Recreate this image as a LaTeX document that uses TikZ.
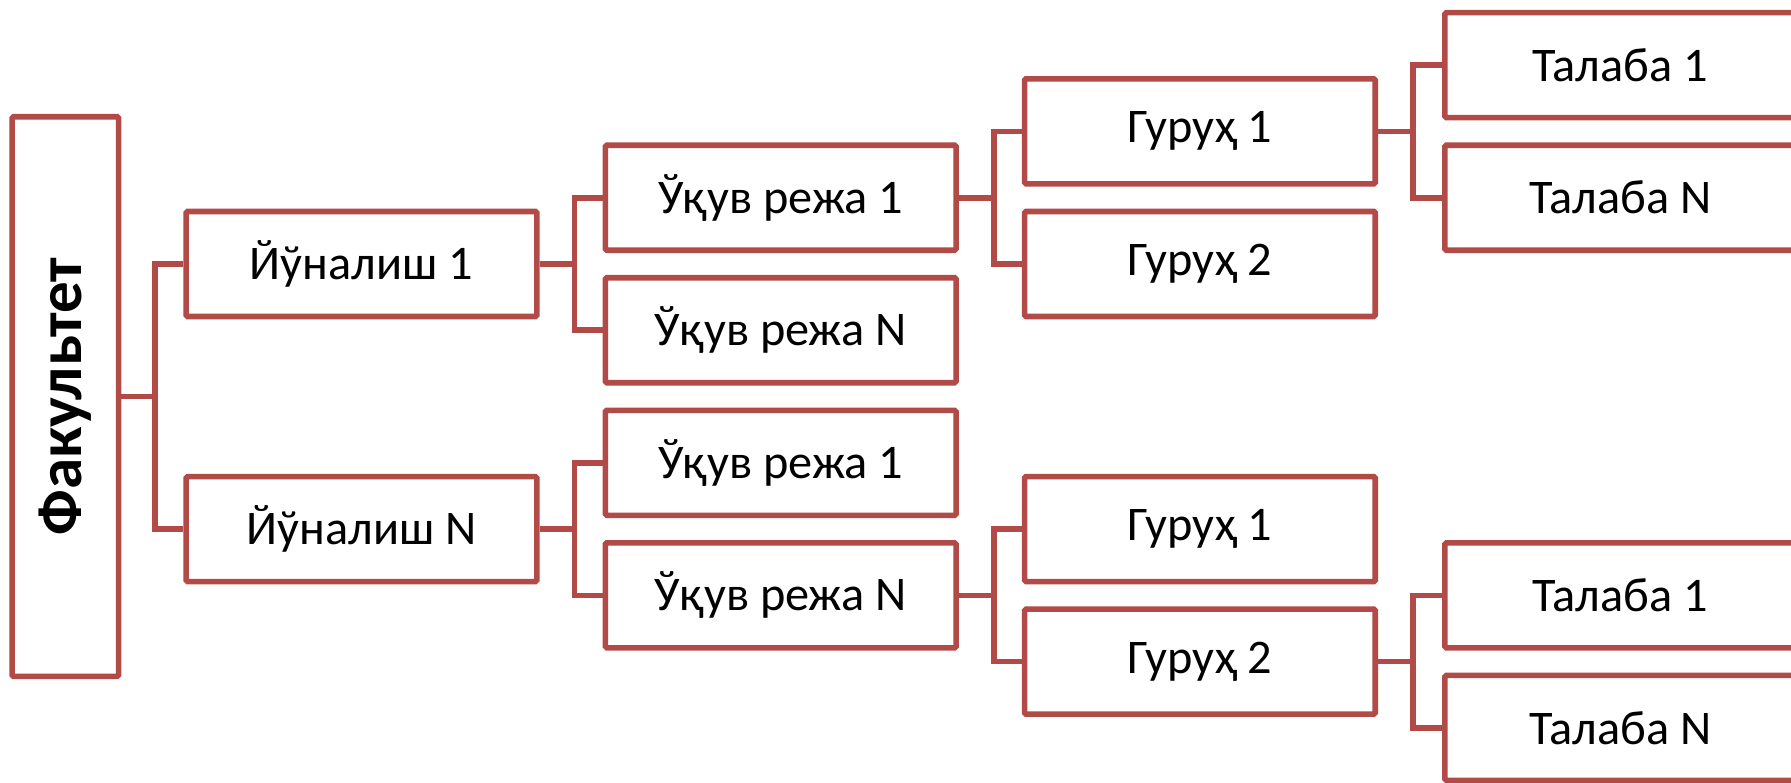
\documentclass[tikz,border=0pt]{standalone}
\usepackage{fontspec}
\setmainfont{Carlito}
\definecolor{boxred}{RGB}{178,75,72}
\begin{document}
\begin{tikzpicture}[x=1.14222pt,y=-1.14222pt,
  box/.style={draw=boxred,line width=5.6pt,rounded corners=1.5pt,
    minimum width=350.7pt,minimum height=105pt,inner sep=0pt,
    font=\fontsize{48.3}{58}\selectfont,fill=white},
  link/.style={draw=boxred,line width=5.6pt}]
\clip (0,0) rectangle (1568,685.5);
\fill[white] (0,0) rectangle (1568,685.5);
\node[box,rotate=90,minimum width=559.7pt,minimum height=106.5pt,
  font=\bfseries\fontsize{63}{75}\selectfont] (fak) at (57.2,347.2) {Факультет};
\node[box] (y1) at (316.5,231.1) {Йўналиш 1};
\node[box] (yN) at (316.5,463.2) {Йўналиш N};
\node[box] (u11) at (683.5,173.1) {Ўқув режа 1};
\node[box] (u1N) at (683.5,289.1) {Ўқув режа N};
\node[box] (uN1) at (683.5,405.2) {Ўқув режа 1};
\node[box] (uNN) at (683.5,521.2) {Ўқув режа N};
\node[box] (g11) at (1050.5,115) {Гуруҳ 1};
\node[box] (g12) at (1050.5,231.1) {Гуруҳ 2};
\node[box] (gN1) at (1050.5,463.2) {Гуруҳ 1};
\node[box] (gN2) at (1050.5,579.3) {Гуруҳ 2};
\node[box] (t11) at (1418.5,57) {Талаба 1};
\node[box] (t1N) at (1418.5,173.1) {Талаба N};
\node[box] (tN1) at (1418.5,521.2) {Талаба 1};
\node[box] (tNN) at (1418.5,637.3) {Талаба N};
\draw[link] (fak.south) -- ++(29.5,0) |- (y1.west);
\draw[link] (fak.south) -- ++(29.5,0) |- (yN.west);
\foreach \p/\a/\b in {y1/u11/u1N, yN/uN1/uNN, u11/g11/g12, uNN/gN1/gN2, g11/t11/t1N, gN2/tN1/tNN}{
  \draw[link] (\p.east) -- ++(30.5,0) |- (\a.west);
  \draw[link] (\p.east) -- ++(30.5,0) |- (\b.west);
}
\end{tikzpicture}
\end{document}
